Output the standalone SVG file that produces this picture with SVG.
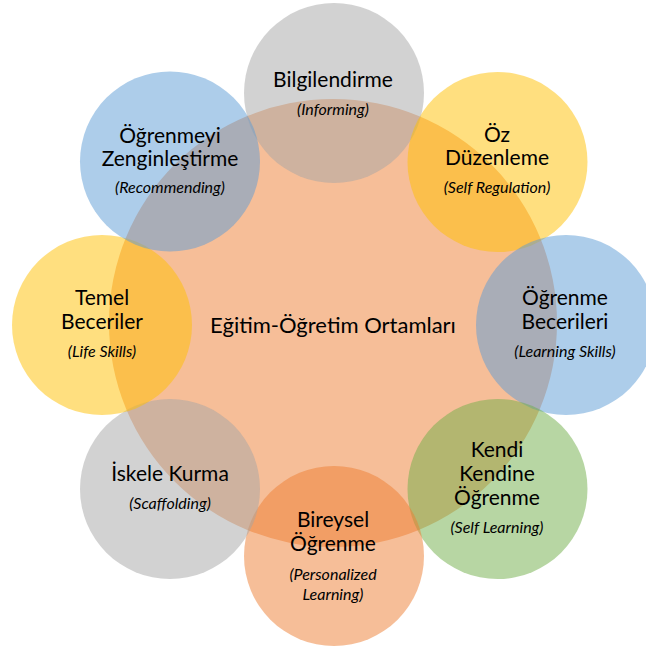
<svg xmlns="http://www.w3.org/2000/svg" width="646" height="646" viewBox="0 0 646 646">
<style>
.c{fill-opacity:0.5;stroke:none}
.grey{fill:#a5a5a5}.blue{fill:#5b9bd5}.yellow{fill:#ffc000}.green{fill:#70ad47}.orange{fill:#ed7d31}
.t{font-family:Lato,"Liberation Sans",sans-serif;font-size:21px;fill:#000;text-anchor:middle}
.i{font-family:Lato,"Liberation Sans",sans-serif;font-size:16px;font-style:italic;fill:#000;text-anchor:middle}
.m{font-family:Lato,"Liberation Sans",sans-serif;font-size:22px;fill:#000;text-anchor:middle}
</style>
<rect width="646" height="646" fill="#ffffff"/>
<g id="center">
<circle class="c orange" cx="333" cy="323" r="224"/>
<text class="m" x="333" y="333">Eğitim-Öğretim Ortamları</text>
</g>
<g id="node-bilgilendirme">
<circle class="c grey" cx="334" cy="93" r="90"/>
<text class="t" x="333" y="86.5">Bilgilendirme</text>
<text class="i" x="333" y="115">(Informing)</text>
</g>
<g id="node-oz">
<circle class="c yellow" cx="497.5" cy="162" r="90"/>
<text class="t" x="497" y="141.5">Öz</text>
<text class="t" x="497" y="165">Düzenleme</text>
<text class="i" x="497" y="193">(Self Regulation)</text>
</g>
<g id="node-ogrenme-becerileri">
<circle class="c blue" cx="566" cy="325" r="90"/>
<text class="t" x="565" y="305">Öğrenme</text>
<text class="t" x="565" y="329">Becerileri</text>
<text class="i" x="565" y="357">(Learning Skills)</text>
</g>
<g id="node-kendi">
<circle class="c green" cx="497.5" cy="489" r="90"/>
<text class="t" x="497" y="457">Kendi</text>
<text class="t" x="497" y="481">Kendine</text>
<text class="t" x="497" y="505">Öğrenme</text>
<text class="i" x="497" y="533">(Self Learning)</text>
</g>
<g id="node-bireysel">
<circle class="c orange" cx="334" cy="556" r="90"/>
<text class="t" x="333" y="526.5">Bireysel</text>
<text class="t" x="333" y="550.5">Öğrenme</text>
<text class="i" x="333" y="580">(Personalized</text>
<text class="i" x="333" y="599.5">Learning)</text>
</g>
<g id="node-iskele">
<circle class="c grey" cx="170" cy="489" r="90"/>
<text class="t" x="170" y="481">İskele Kurma</text>
<text class="i" x="170" y="509">(Scaffolding)</text>
</g>
<g id="node-temel">
<circle class="c yellow" cx="102" cy="325" r="90"/>
<text class="t" x="102" y="305">Temel</text>
<text class="t" x="102" y="329">Beceriler</text>
<text class="i" x="102" y="357">(Life Skills)</text>
</g>
<g id="node-zenginlestirme">
<circle class="c blue" cx="170" cy="161.5" r="90"/>
<text class="t" x="170" y="142.5">Öğrenmeyi</text>
<text class="t" x="170" y="165.5">Zenginleştirme</text>
<text class="i" x="170" y="193">(Recommending)</text>
</g>
</svg>
